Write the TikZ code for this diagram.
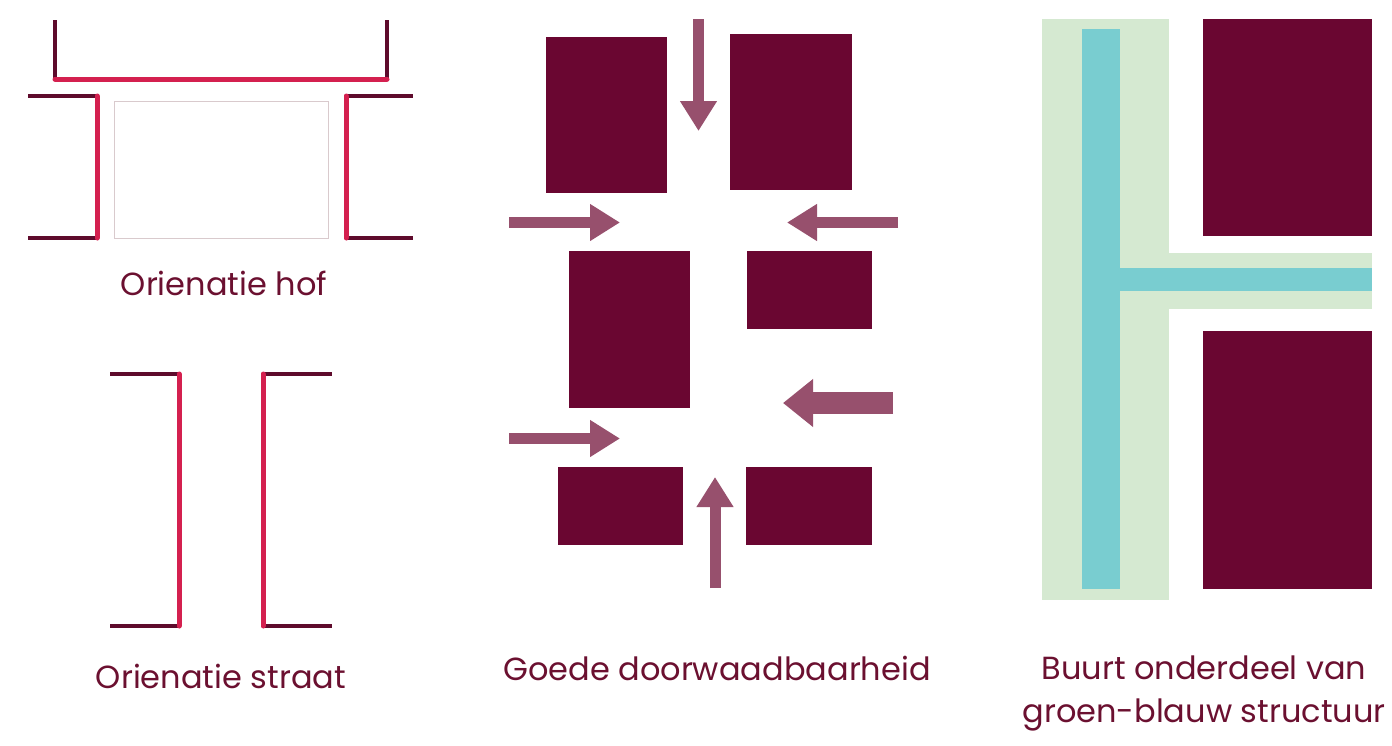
\documentclass[tikz,border=0pt]{standalone}
\usepackage{fontspec}
\setmainfont{Poppins}
\usepackage{tikz}
\usetikzlibrary{arrows.meta,positioning}
\definecolor{bordeaux}{HTML}{6A0631}
\definecolor{donker}{HTML}{5E0B2C}
\definecolor{roze}{HTML}{D4204F}
\definecolor{pijlkleur}{HTML}{97506D}
\definecolor{tekstkleur}{HTML}{6B1030}
\definecolor{lichtgroen}{HTML}{D5E9D1}
\definecolor{waterblauw}{HTML}{79CDD0}
\definecolor{dunrand}{HTML}{D9CACD}
\tikzset{
  wand/.style={donker,line width=4pt},
  gevel/.style={roze,line width=5pt,line cap=round},
  blok/.style={fill=bordeaux},
  pijl/.style={pijlkleur,line width=11pt,-{Triangle[length=30pt,width=35pt]}},
  dikkepijl/.style={pijlkleur,line width=22pt,-{Triangle[length=30pt,width=46pt]}},
  label/.style={text=tekstkleur,font=\fontsize{32}{43}\selectfont,anchor=base,align=center}
}
\begin{document}
\begin{tikzpicture}[x=1pt,y=-1pt]
\useasboundingbox (0,0) rectangle (1392,745);
% orientatie hof
\draw[wand] (55,20) -- (55,79) (387,20) -- (387,79);
\draw[gevel] (55,79) -- (387,79);
\draw[wand] (28,96) -- (97,96) (28,238) -- (97,238);
\draw[gevel] (97,96) -- (97,238);
\draw[wand] (346,96) -- (413,96) (346,238) -- (413,238);
\draw[gevel] (346,96) -- (346,238);
\draw[dunrand,line width=1pt] (114,101) rectangle (328,238);
\node[label] (hof) at (224,295) {Orienatie hof};
% orientatie straat
\draw[wand] (110,374) -- (179,374) (110,626) -- (179,626);
\draw[gevel] (179,374) -- (179,626);
\draw[wand] (263,374) -- (332,374) (263,626) -- (332,626);
\draw[gevel] (263,374) -- (263,626);
\node[label] (straat) at (221,688) {Orienatie straat};
% doorwaadbaarheid
\fill[blok] (546,37) rectangle (667,193);
\fill[blok] (730,34) rectangle (852,190);
\fill[blok] (569,251) rectangle (690,408);
\fill[blok] (747,251) rectangle (872,329);
\fill[blok] (558,467) rectangle (683,545);
\fill[blok] (746,467) rectangle (872,545);
\draw[pijl] (698.5,19) -- (698.5,131);
\draw[pijl] (509,222.5) -- (620,222.5);
\draw[pijl] (898,222.5) -- (787,222.5);
\draw[dikkepijl] (893,403) -- (783,403);
\draw[pijl] (509,438.5) -- (620,438.5);
\draw[pijl] (715,588) -- (715,477);
\node[label] (doorwaad) at (717,680) {Goede doorwaadbaarheid};
% groen-blauw
\fill[lichtgroen] (1042,19) rectangle (1169,600);
\fill[lichtgroen] (1169,253) rectangle (1372,309);
\fill[waterblauw] (1082,29) rectangle (1120,589);
\fill[waterblauw] (1120,268) rectangle (1372,291);
\fill[blok] (1203,19) rectangle (1372,236);
\fill[blok] (1203,331) rectangle (1372,589);
\node[label] (buurt) at (1204,722) {Buurt onderdeel van\\groen-blauw structuur};
\end{tikzpicture}
\end{document}
